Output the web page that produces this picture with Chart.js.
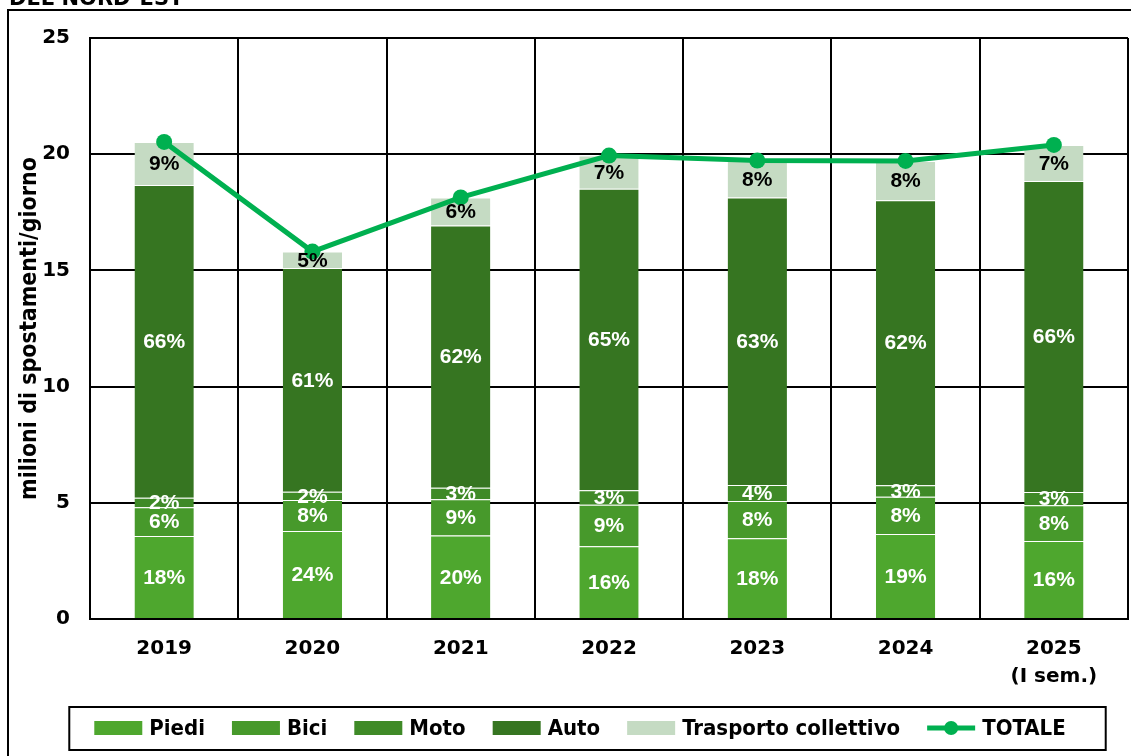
<!DOCTYPE html>
<html>
<head>
<meta charset="utf-8">
<script src="https://cdn.jsdelivr.net/npm/chart.js@4.4.1/dist/chart.umd.min.js"></script>
<style>
  html, body { margin: 0; padding: 0; background: #fff; }
  #wrap { width: 1131px; height: 756px; position: relative; }
</style>
</head>
<body>
<div id="wrap"><canvas id="grafico"></canvas></div>
<script>
'use strict';

/* ── Dati: milioni di spostamenti/giorno per mezzo ── */
const anni = [['2019'], ['2020'], ['2021'], ['2022'], ['2023'], ['2024'], ['2025', '(I sem.)']];

const piedi   = [3.57, 3.79, 3.59, 3.13, 3.47, 3.66, 3.36];
const bici    = [1.24, 1.33, 1.56, 1.79, 1.61, 1.60, 1.53];
const moto    = [0.41, 0.36, 0.50, 0.62, 0.69, 0.50, 0.58];
const auto    = [13.46, 9.62, 11.28, 12.97, 12.37, 12.26, 13.38];
const trasp   = [1.85, 0.71, 1.21, 1.43, 1.59, 1.69, 1.55];
const totale  = [20.53, 15.81, 18.14, 19.94, 19.73, 19.71, 20.40];

/* quote percentuali mostrate sulle barre */
const piediPct = ['18%', '24%', '20%', '16%', '18%', '19%', '16%'];
const biciPct  = ['6%', '8%', '9%', '9%', '8%', '8%', '8%'];
const motoPct  = ['2%', '2%', '3%', '3%', '4%', '3%', '3%'];
const autoPct  = ['66%', '61%', '62%', '65%', '63%', '62%', '66%'];
const traspPct = ['9%', '5%', '6%', '7%', '8%', '8%', '7%'];

const yTicks = [0, 5, 10, 15, 20, 25];

/* ── Colori ── */
const C_PIEDI = '#4ea72e';
const C_BICI  = '#47992b';
const C_MOTO  = '#3f8a27';
const C_AUTO  = '#367521';
const C_TRASP = '#c5dbc3';
const C_TOT   = '#00b050';

const FONT_TICK  = 'DejaVu Sans';
const FONT_LABEL = 'Liberation Sans';
const FONT_COND  = '"DejaVu Sans Condensed", "Liberation Sans Narrow", "DejaVu Sans"';

function barSet(label, data, color, pct, textColor) {
  return {
    type: 'bar', label, data,
    backgroundColor: color,
    borderColor: 'rgba(255,255,255,0.28)',
    borderWidth: { top: 1, left: 0, right: 0, bottom: 0 },
    borderSkipped: 'start',
    barPercentage: 0.4,
    categoryPercentage: 1,
    stack: 'mezzi',
    pct, textColor
  };
}

/* ── Cornice e titolo tagliato in alto ── */
const cornice = {
  id: 'cornice',
  beforeDraw(chart) {
    const ctx = chart.ctx;
    ctx.save();
    ctx.fillStyle = '#fff';
    ctx.fillRect(0, 0, chart.width, chart.height);
    ctx.strokeStyle = '#000';
    ctx.lineWidth = 2;
    ctx.strokeRect(8, 10, 1140, 800);
    ctx.fillStyle = '#000';
    ctx.font = 'bold 21px ' + FONT_TICK;
    ctx.textBaseline = 'alphabetic';
    ctx.fillText('DEL NORD-EST', 9, 5);
    ctx.restore();
  }
};

/* ── Etichette % al centro di ogni segmento ── */
const etichette = {
  id: 'etichette',
  afterDatasetsDraw(chart) {
    const ctx = chart.ctx;
    ctx.save();
    ctx.font = 'bold 21px ' + FONT_LABEL;
    ctx.textAlign = 'center';
    ctx.textBaseline = 'middle';
    chart.data.datasets.forEach((ds, i) => {
      if (ds.type !== 'bar') return;
      const meta = chart.getDatasetMeta(i);
      meta.data.forEach((el, j) => {
        const p = el.getProps(['x', 'y', 'base'], true);
        ctx.fillStyle = ds.textColor;
        ctx.fillText(ds.pct[j], p.x, (p.y + p.base) / 2 + 1);
      });
    });
    ctx.restore();
  }
};

/* ── Legenda in riquadro ── */
const legenda = {
  id: 'legenda',
  afterDraw(chart) {
    const ctx = chart.ctx;
    const sets = chart.data.datasets;
    const sw = 48, sh = 14, gapIn = 7, gapOut = 27;
    const rowY = 728;
    ctx.save();
    ctx.font = 'bold 22px ' + FONT_COND;
    ctx.textBaseline = 'middle';
    const widths = sets.map(ds => ctx.measureText(ds.label).width);
    const total = widths.reduce((s, w) => s + sw + gapIn + w, 0) + gapOut * (sets.length - 1);
    let x = 580 - total / 2;
    ctx.strokeStyle = '#000';
    ctx.lineWidth = 2;
    ctx.strokeRect(x - 25, 707, total + 65, 43);
    sets.forEach((ds, i) => {
      if (ds.type === 'line') {
        ctx.strokeStyle = C_TOT;
        ctx.lineWidth = 5;
        ctx.beginPath();
        ctx.moveTo(x, rowY);
        ctx.lineTo(x + sw, rowY);
        ctx.stroke();
        ctx.fillStyle = C_TOT;
        ctx.beginPath();
        ctx.arc(x + sw / 2, rowY, 7, 0, Math.PI * 2);
        ctx.fill();
      } else {
        ctx.fillStyle = ds.backgroundColor;
        ctx.fillRect(x, rowY - sh / 2, sw, sh);
      }
      x += sw + gapIn;
      ctx.fillStyle = '#000';
      ctx.fillText(ds.label, x, rowY + 1);
      x += widths[i] + gapOut;
    });
    ctx.restore();
  }
};

new Chart(document.getElementById('grafico'), {
  data: {
    labels: anni,
    datasets: [
      barSet('Piedi', piedi, C_PIEDI, piediPct, '#fff'),
      barSet('Bici', bici, C_BICI, biciPct, '#fff'),
      barSet('Moto', moto, C_MOTO, motoPct, '#fff'),
      barSet('Auto', auto, C_AUTO, autoPct, '#fff'),
      barSet('Trasporto collettivo', trasp, C_TRASP, traspPct, '#000'),
      {
        type: 'line', label: 'TOTALE', data: totale,
        borderColor: C_TOT, backgroundColor: C_TOT,
        borderWidth: 5, pointRadius: 8, pointHoverRadius: 8,
        pointBackgroundColor: C_TOT, pointBorderWidth: 0,
        tension: 0, order: -1
      }
    ]
  },
  options: {
    responsive: true,
    maintainAspectRatio: false,
    animation: false,
    events: [],
    layout: { autoPadding: false, padding: { left: 0, top: 38, right: 3, bottom: 0 } },
    plugins: {
      legend: { display: false },
      tooltip: { enabled: false },
      title: { display: false }
    },
    scales: {
      x: {
        stacked: true,
        offset: true,
        grid: { offset: true, color: '#000', lineWidth: 2, drawTicks: false },
        border: { color: '#000', width: 2 },
        ticks: {
          color: '#000', padding: 16, maxRotation: 0,
          font: { family: FONT_TICK, weight: 'bold', size: 20, lineHeight: 1.4 }
        },
        afterFit(scale) {
          scale.height = 137;
          scale.paddingLeft = 0;
          scale.paddingRight = 0;
        }
      },
      y: {
        stacked: true,
        min: 0, max: 25,
        afterBuildTicks(scale) { scale.ticks = yTicks.map(v => ({ value: v })); },
        grid: { color: '#000', lineWidth: 2, drawTicks: false },
        border: { color: '#000', width: 2 },
        ticks: {
          color: '#000', padding: 20,
          font: { family: FONT_TICK, weight: 'bold', size: 20 }
        },
        title: {
          display: true,
          text: 'milioni di spostamenti/giorno',
          color: '#000',
          padding: { top: 16, bottom: 0 },
          font: { family: FONT_COND, weight: 'bold', size: 23 }
        },
        afterFit(scale) { scale.width = 90; }
      }
    }
  },
  plugins: [cornice, etichette, legenda]
});
</script>
</body>
</html>
